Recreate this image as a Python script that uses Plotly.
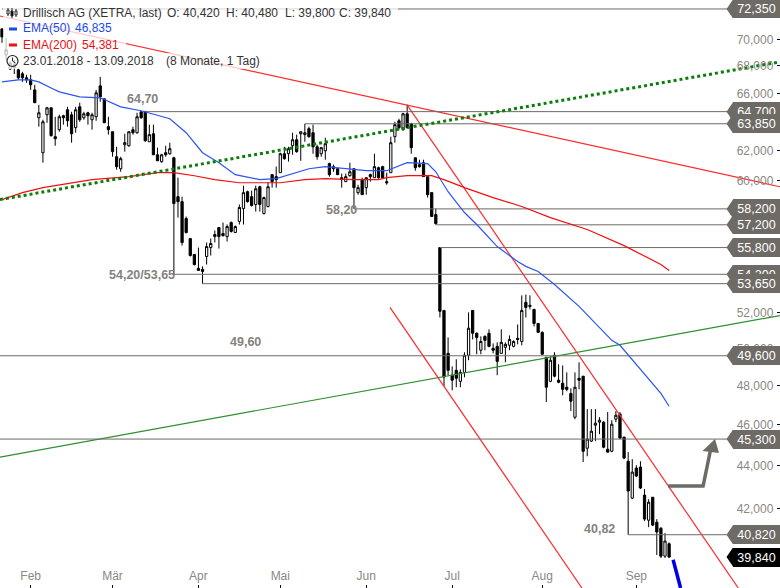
import math
import plotly.graph_objects as go

opens = [70.80,68.82,67.78,68.08,67.71,67.42,67.13,66.98,66.25,64.27,61.87,64.48,64.97,62.96,63.44,64.41,64.83,64.48,63.58,65.04,
64.27,64.62,64.13,64.34,66.54,65.61,63.65,63.30,61.60,60.80,62.41,62.34,63.44,63.23,64.69,64.69,62.61,63.16,61.73,61.27,
61.87,61.80,61.53,58.98,58.66,57.59,56.35,55.38,54.55,54.49,55.26,55.80,56.47,57.03,56.66,56.47,57.34,56.72,57.41,58.22,
59.30,58.98,58.48,59.62,57.91,58.35,60.41,60.28,60.54,61.80,61.80,62.34,62.75,63.16,63.10,63.51,63.23,62.27,61.80,62.00,
61.14,60.94,60.80,60.21,59.95,60.34,60.80,59.24,60.08,59.56,60.41,60.21,60.87,60.94,59.95,60.54,62.96,64.06,63.44,64.55,
63.85,61.53,61.07,61.20,60.28,59.24,57.84,55.80,52.11,49.73,48.56,48.82,48.24,48.71,49.63,52.11,50.83,49.90,50.66,50.83,
50.00,50.11,49.73,50.06,50.17,50.11,50.55,50.38,52.57,52.40,52.17,51.38,50.88,49.52,48.24,49.63,48.30,48.14,47.93,47.61,
46.39,48.40,48.51,44.85,45.20,45.99,46.14,46.14,44.80,44.70,46.29,46.55,45.40,44.22,42.48,43.89,43.94,42.62,41.47,42.52,
41.38,41.11,39.88,40.42]
highs = [70.80,70.11,68.30,68.45,67.86,67.56,67.35,67.35,66.62,65.18,64.13,65.04,64.97,64.34,64.48,64.48,65.04,64.69,65.04,65.33,
64.69,64.69,64.62,66.25,67.20,65.61,64.34,63.30,62.27,61.60,63.16,63.30,63.65,64.62,64.69,64.76,63.79,63.79,62.21,61.80,
62.34,62.55,61.60,60.21,58.98,57.72,56.35,55.38,55.80,54.67,56.11,56.35,56.85,57.03,57.34,57.22,57.41,57.16,58.48,59.69,
59.37,59.37,59.69,59.69,58.98,59.88,60.41,60.94,61.87,62.27,62.27,63.23,63.10,63.30,63.85,63.65,63.79,62.41,62.27,62.89,
61.20,61.07,60.87,60.48,60.48,61.20,60.80,59.75,60.21,60.21,60.48,61.80,60.94,61.00,60.54,62.96,63.99,64.20,64.62,65.18,
63.92,61.53,61.40,61.40,60.28,59.24,58.20,55.80,52.11,50.60,49.03,49.41,48.87,49.79,52.00,52.11,50.88,50.66,50.71,51.05,
50.27,50.33,51.05,50.33,50.71,50.44,51.32,52.97,53.02,52.97,52.17,51.38,50.94,49.52,49.57,49.79,49.14,49.08,48.71,47.87,
48.71,49.25,48.51,46.80,46.80,46.80,46.39,46.19,46.65,46.24,46.70,46.65,45.40,44.66,44.32,44.03,44.22,42.90,42.43,42.52,
41.52,41.16,40.89,40.48]
lows = [69.73,68.45,67.70,67.40,66.98,66.83,66.76,66.25,65.33,63.65,61.20,63.92,62.96,62.34,63.30,63.79,63.65,62.55,63.23,63.99,
64.13,63.79,63.44,64.06,65.40,63.92,63.10,61.60,60.74,60.60,61.94,62.27,63.10,63.16,64.20,62.61,62.61,61.73,61.33,61.20,
61.60,61.73,54.20,57.65,55.92,56.66,55.26,54.72,54.43,53.65,54.78,55.32,56.11,55.74,56.47,56.17,56.72,56.72,57.22,57.22,
58.60,58.35,58.03,58.03,57.84,58.29,59.56,59.56,60.54,61.40,61.27,61.73,61.87,61.33,62.61,62.89,61.80,61.40,61.60,61.40,
60.28,60.60,60.41,59.56,59.95,60.28,58.20,59.11,59.11,59.11,59.95,60.21,60.15,60.15,59.75,60.54,62.55,63.44,63.37,63.51,
61.80,60.67,60.87,60.28,58.92,57.72,57.20,51.71,47.98,48.56,47.77,47.93,47.93,48.45,49.36,50.49,49.68,49.68,49.90,50.06,
49.73,48.56,49.73,49.25,49.90,50.06,50.22,50.17,51.71,52.17,51.21,50.88,49.68,47.16,48.19,48.45,48.14,47.51,47.72,46.70,
46.29,47.82,44.18,44.46,45.15,45.20,45.54,44.85,44.66,44.66,46.14,45.30,44.32,40.82,42.43,43.46,42.90,41.43,41.16,41.20,
39.93,39.80,39.80,39.80]
closes = [70.18,69.20,68.23,67.86,67.13,67.13,66.98,66.62,65.33,64.62,63.99,64.97,63.03,62.82,64.34,64.27,64.06,63.16,64.83,64.13,
64.55,64.41,64.48,66.04,65.75,63.92,63.44,61.94,60.94,61.47,62.55,63.30,63.23,64.34,64.27,62.68,63.10,61.73,61.33,61.73,
61.73,62.14,58.54,58.66,56.11,56.72,55.32,54.78,54.43,54.37,55.86,56.05,56.60,56.47,56.53,57.09,56.79,57.09,58.29,59.24,
58.66,58.41,59.49,58.48,58.92,59.62,59.95,60.08,61.80,61.47,62.14,62.75,61.94,63.30,63.23,62.96,62.27,61.60,62.21,62.48,
60.41,60.80,60.41,60.08,60.28,60.60,59.56,59.56,59.11,60.21,60.28,60.94,60.21,60.21,59.88,62.55,63.79,63.58,64.55,63.58,
62.21,60.87,60.94,60.28,59.11,57.72,57.28,52.06,48.46,48.82,48.30,48.40,48.71,49.63,51.11,50.83,50.60,50.38,50.44,50.11,
49.90,49.30,50.33,50.22,50.49,50.38,50.49,52.11,52.28,52.34,51.38,50.88,49.68,47.93,49.36,48.51,48.19,47.82,47.82,47.21,
47.93,48.30,44.70,45.30,45.69,46.09,46.24,44.90,44.66,46.04,46.49,45.35,44.37,42.81,43.70,43.51,42.95,41.52,42.29,41.25,
40.94,39.88,40.54,39.84]

ema50_days = [0,4,7,9,12,14,19,24,29,34,41,45,49,53,57,63,67,71,75,79,85,89,94,97,99,104,106,109,113,116,121,126,128,131,135,141,144,149,151,156,161,163]
ema50_vals = [66.83,66.98,66.98,66.83,66.39,66.11,65.75,65.68,65.04,64.76,64.20,63.23,61.87,61.20,60.41,60.08,60.15,60.48,60.80,60.94,60.80,60.67,60.67,61.00,61.20,61.14,60.60,59.30,57.97,57.22,55.86,54.96,54.67,54.37,53.60,52.34,51.60,50.44,50.17,48.87,47.61,46.95]
ema200_days = [0,5,10,16,22,31,38,42,47,52,58,63,68,74,79,86,92,94,99,105,108,113,120,127,134,143,152,161,163]
ema200_vals = [58.79,59.24,59.56,59.82,60.08,60.28,60.54,60.54,60.34,60.08,59.88,59.88,59.88,60.08,60.15,60.08,60.08,60.21,60.34,60.34,60.08,59.56,58.92,58.35,57.65,56.91,55.92,54.78,54.43]

level_vals = [72.35,64.70,63.85,58.20,57.20,55.80,54.20,53.65,49.60,45.30,40.82]
level_text = ["72,350","64,700","63,850","58,200","57,200","55,800","54,200","53,650","49,600","45,300","40,820"]
level_start = [0,34.4,74,86,106,107,42,49,-0.49,-0.49,153]
last_val, last_text = 39.84, "39,840"

note_text = ["64,70","58,20","54,20/53,65","49,60","40,82"]
note_x = [34.3,83,34.3,59.4,146]
note_y = [65.61,58.1,54.13,50.33,41.07]

month_days = [7,27,48,68,89,110,132,155]
month_names = ["Feb","Mär","Apr","Mai","Jun","Jul","Aug","Sep"]
y_ticks = [40,42,44,46,48,50,52,54,56,58,60,62,64,66,68,70]

W, H = 780, 588
Y_TOP, Y_BOT = 73.06, 38.52
X_MIN, X_MAX = -0.489, 190.1
def xp(px): return px / W
def yp(py): return 1 - py / H
def day(px): return (px - 2) / 4.092

GREY = "#6e6a66"
fig = go.Figure()
fig.add_trace(go.Scatter(x=[X_MIN, X_MAX], y=[44.42, 51.82], mode="lines", line=dict(color="#2f8f2f", width=1.2)))
for xs, ys in [([X_MIN, X_MAX], [71.80, 59.62]), ([98.97, 179.9], [65.18, 38.52]), ([94.8, 141.7], [52.28, 38.52])]:
    fig.add_trace(go.Scatter(x=xs, y=ys, mode="lines", line=dict(color="#ff2a2a", width=1.2)))
for v, s in zip(level_vals, level_start):
    fig.add_trace(go.Scatter(x=[s, day(728)], y=[v, v], mode="lines", line=dict(color=GREY, width=1)))
fig.add_trace(go.Candlestick(
    x=list(range(len(opens))), open=opens, high=highs, low=lows, close=closes,
    whiskerwidth=0,
    increasing=dict(line=dict(color="black", width=1), fillcolor="white"),
    decreasing=dict(line=dict(color="black", width=1), fillcolor="black"),
))
fig.add_trace(go.Scatter(x=ema50_days, y=ema50_vals, mode="lines", line=dict(color="#2a55f0", width=1.2)))
fig.add_trace(go.Scatter(x=ema200_days, y=ema200_vals, mode="lines", line=dict(color="#f01010", width=1.2)))
fig.add_trace(go.Scatter(x=[X_MIN, X_MAX], y=[58.79, 68.30], mode="lines", line=dict(color="#0a7d0a", width=3, dash="dot")))
fig.add_trace(go.Scatter(x=[day(668), day(703), day(711)], y=[43.04, 43.04, 44.9], mode="lines",
                         line=dict(color=GREY, width=3.5)))
fig.add_trace(go.Scatter(x=[day(673), day(680.5)], y=[39.72, Y_BOT], mode="lines", line=dict(color="#0000e6", width=3.5)))

shapes, ann = [], []
def rect(x0, y0, x1, y1, **kw):
    shapes.append(dict(type="rect", xref="paper", yref="paper", x0=xp(x0), x1=xp(x1), y0=yp(y0), y1=yp(y1), **kw))
def seg(x0, y0, x1, y1, color, width):
    shapes.append(dict(type="line", xref="paper", yref="paper", x0=xp(x0), x1=xp(x1), y0=yp(y0), y1=yp(y1),
                       line=dict(color=color, width=width)))
def poly(pts, color):
    path = "M" + " L".join(f"{xp(a):.5f},{yp(b):.5f}" for a, b in pts) + " Z"
    shapes.append(dict(type="path", xref="paper", yref="paper", path=path, fillcolor=color, line=dict(width=0)))
def price_py(v):
    return H * (math.log(Y_TOP) - math.log(v)) / (math.log(Y_TOP) - math.log(Y_BOT))

# legend veil
for box in [(3, 3, 398, 21), (3, 21, 118, 37), (3, 37, 126, 53), (3, 53, 262, 69)]:
    rect(*box, fillcolor="rgba(255,255,255,0.72)", line=dict(width=0))

# arrow head
poly([(715, 439), (702.5, 451), (719, 453)], GREY)

# legend icons
seg(9, 29, 17, 29, "#1a4be8", 3)
seg(9, 45, 17, 45, "#f01010", 3)
for cx, top, bot, hi, lo, fill in [(8, 10, 14, 8, 16, "white"), (12, 11, 16, 8, 18, "black"), (16, 11, 15, 9, 17, "white")]:
    seg(cx, hi, cx, lo, "#222", 1)
    rect(cx - 1, top, cx + 1, bot, fillcolor=fill, line=dict(color="#222", width=1))
shapes.append(dict(type="circle", xref="paper", yref="paper", x0=xp(7), x1=xp(18), y0=yp(55.5), y1=yp(66.5),
                   line=dict(color="#222", width=1.2), fillcolor="rgba(255,255,255,0)"))
seg(12.5, 61, 12.5, 57.5, "#222", 1)
seg(12.5, 61, 15.5, 63, "#222", 1)

def label(px, py, text, color="#333333", anchor="left", size=12, bold=False):
    t = f"<b>{text}</b>" if bold else text
    ann.append(dict(xref="paper", yref="paper", x=xp(px), y=yp(py), text=t, showarrow=False,
                    xanchor=anchor, yanchor="middle", font=dict(family="Liberation Sans", size=size, color=color)))

label(21, 12.5, "Drillisch AG (XETRA, last)")
label(165, 12.5, "O: 40,420")
label(224, 12.5, "H: 40,480")
label(283, 12.5, "L: 39,800")
label(337, 12.5, "C: 39,840")
label(21, 28.5, "EMA(50)", "#1a4be8")
label(73, 28.5, "46,835", "#1a4be8")
label(21, 44.5, "EMA(200)", "#e81010")
label(80, 44.5, "54,381", "#e81010")
label(21, 60.5, "23.01.2018 - 13.09.2018")
label(164, 60.5, "(8 Monate, 1 Tag)")

for t, x, y in zip(note_text, note_x, note_y):
    ann.append(dict(x=x, y=math.log10(y), xref="x", yref="y", text=f"<b>{t}</b>", showarrow=False,
                    xanchor="center", yanchor="middle",
                    font=dict(family="Liberation Sans", size=12.5, color="#85817d")))

def tag(v, text, color):
    py = price_py(v)
    poly([(726.5, py), (733, py - 9.5), (733, py + 9.5)], color)
    ann.append(dict(xref="paper", x=1, xanchor="right", yref="y", y=math.log10(v), yanchor="middle",
                    text=text, showarrow=False, width=47, height=19, align="center", valign="middle",
                    bgcolor=color, borderpad=0, borderwidth=0,
                    font=dict(family="Liberation Sans", size=12.5, color="white")))
for v, t in zip(level_vals, level_text):
    tag(v, t, GREY)
tag(last_val, last_text, "#000000")

fig.update_layout(
    width=W, height=H, margin=dict(l=0, r=0, t=0, b=0), autosize=False,
    paper_bgcolor="white", plot_bgcolor="white", showlegend=False, hovermode=False,
    separators=",.", shapes=shapes, annotations=ann, boxgap=0.45, boxgroupgap=0,
    xaxis=dict(range=[X_MIN, X_MAX], rangeslider=dict(visible=False), showgrid=False, zeroline=False,
               tickmode="array", tickvals=month_days, ticktext=month_names,
               ticks="inside", ticklen=3, tickwidth=1, tickcolor="black", ticklabelposition="inside",
               ticklabelstandoff=2,
               tickfont=dict(family="Liberation Sans", size=12, color="#8b8784")),
    yaxis=dict(type="log", range=[math.log10(Y_BOT), math.log10(Y_TOP)], side="right", showgrid=False, zeroline=False,
               tickmode="array", tickvals=y_ticks, ticktext=[f"{v},000" for v in y_ticks],
               ticks="inside", ticklen=3, tickwidth=1, tickcolor="black", ticklabelposition="inside",
               ticklabelstandoff=3,
               tickfont=dict(family="Liberation Sans", size=12, color="#8b8784")),
)
fig.write_html("out.html", config={"displayModeBar": False},
               post_script="document.body.style.margin='0';document.body.style.overflow='hidden';")
